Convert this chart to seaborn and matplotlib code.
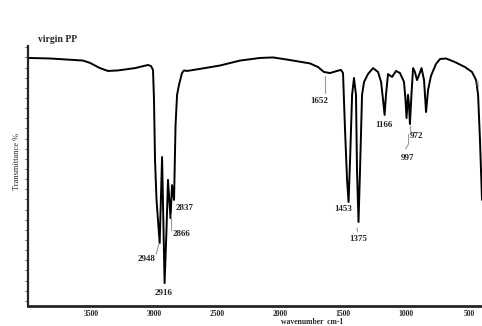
#FTIR spectrum of virgin PP

import numpy as np
import pandas as pd
import seaborn as sns
import matplotlib.pyplot as plt

#Spectrum (wavenumber cm-1, transmittance %)
wavenumber = [3992, 3825, 3563, 3508, 3429, 3365, 3286, 3151, 3048, 3024, 3008, 3000, 2992, 2980,
              2955, 2936, 2916, 2901, 2889, 2869, 2857, 2841, 2829, 2817, 2802, 2778, 2762, 2738,
              2635, 2476, 2317, 2159, 2055, 1921, 1762, 1698, 1651, 1603, 1548, 1516, 1500, 1484,
              1468, 1456, 1444, 1428, 1413, 1397, 1389, 1377, 1365, 1349, 1333, 1302, 1262, 1222,
              1198, 1182, 1170, 1159, 1143, 1111, 1079, 1048, 1016, 1004, 996, 984, 976, 969,
              957, 944, 929, 913, 897, 877, 857, 841, 825, 802, 762, 730, 682, 611, 532, 476,
              444, 428, 413, 397]
transmittance = [95.4, 95.2, 94.4, 93.5, 91.5, 90.4, 90.6, 91.5, 92.7, 92.3, 90.8, 79.2, 56.2, 40.8,
                 24.2, 57.3, 8.8, 29.2, 48.5, 33.8, 46.5, 40.8, 69.6, 81.2, 85.0, 89.6, 90.6, 90.4,
                 91.2, 92.5, 94.4, 95.4, 95.6, 94.6, 93.3, 91.9, 90.0, 89.6, 90.4, 90.8, 89.6, 67.7,
                 48.5, 40.0, 56.2, 81.2, 87.7, 81.2, 52.3, 32.3, 52.3, 81.2, 86.2, 89.2, 91.5, 90.0,
                 86.2, 79.2, 73.5, 81.2, 89.2, 88.1, 90.4, 89.6, 86.2, 79.2, 72.3, 81.2, 77.3, 70.0,
                 81.2, 91.5, 90.0, 86.9, 88.8, 91.5, 86.9, 74.6, 83.1, 88.5, 93.1, 95.0, 95.2, 93.8,
                 91.9, 90.0, 86.9, 81.2, 63.8, 40.8]

#Peak labels: text, label position (wavenumber, T), pointer line points
peak_names = ['1652', '1166', '972', '997', '1453', '1375', '2948', '2916', '2866', '2837']
peak_text_w = [1690, 1175, 920, 985, 1495, 1380, 3063, 2922, 2780, 2756]
peak_text_t = [79.0, 69.6, 65.4, 57.0, 37.3, 25.8, 18.1, 5.0, 27.7, 37.7]
peak_line = [[(1645, 88.5), (1645, 82.0)], None, [(966, 69.2), (960, 66.5)],
             [(980, 66.0), (980, 62.3), (1004, 60.4)], None, [(1388, 30.0), (1385, 28.5)],
             [(2983, 20.0), (2960, 24.0)], None, [(2862, 35.5), (2862, 29.2)], None]

df = pd.DataFrame({'wavenumber': wavenumber, 'transmittance': transmittance})

sns.set_style("ticks")
plt.rcParams['font.family'] = ['Liberation Serif', 'DejaVu Serif']

fig = plt.figure(figsize=(4.82, 3.26), dpi=100)
ax = fig.add_axes([28/482, 20/326, 1 - 28/482, 260/326])

sns.lineplot(data=df, x='wavenumber', y='transmittance', color='black', linewidth=1.4,
             sort=False, estimator=None, ax=ax)

ax.set_xlim(4000, 397)
ax.set_ylim(0, 100)
ax.set_xticks([3500, 3000, 2500, 2000, 1500, 1000, 500])
ax.set_xticklabels(['3500', '3000', '2500', '2000', '1500', '1000', '500'], fontsize=5.5, fontweight='bold')
ax.set_yticks(np.arange(2, 101, 3.9))
ax.set_yticklabels([])
ax.tick_params(axis='y', length=2, width=0.6, color='#444444')
ax.tick_params(axis='x', length=0, pad=3)
ax.set_xlabel('')
ax.set_ylabel('')
for s in ['top', 'right']:
    ax.spines[s].set_visible(False)
ax.spines['left'].set_linewidth(1.6)
ax.spines['bottom'].set_linewidth(2.0)

for name, tw, tt, ln in zip(peak_names, peak_text_w, peak_text_t, peak_line):
    ax.text(tw, tt, name, fontsize=6.5, fontweight='bold', ha='center', va='center')
    if ln is not None:
        xs, ys = zip(*ln)
        ax.plot(xs, ys, color='#999999', linewidth=0.8)

ax.text(418, 86, '403', fontsize=3.5, rotation=90, color='#666666', ha='center', va='center')

fig.text(58/482, 1 - 39/326, 'virgin PP', fontsize=7, fontweight='bold', ha='center', va='center')
fig.text(17/482, 1 - 162/326, 'Transmittance %', fontsize=6, rotation=90, ha='center', va='center')
fig.text(312/482, 1 - 322.5/326, 'wavenumber  cm-1', fontsize=5.5, fontweight='bold', ha='center', va='center')

plt.savefig('out.png', dpi=100)
